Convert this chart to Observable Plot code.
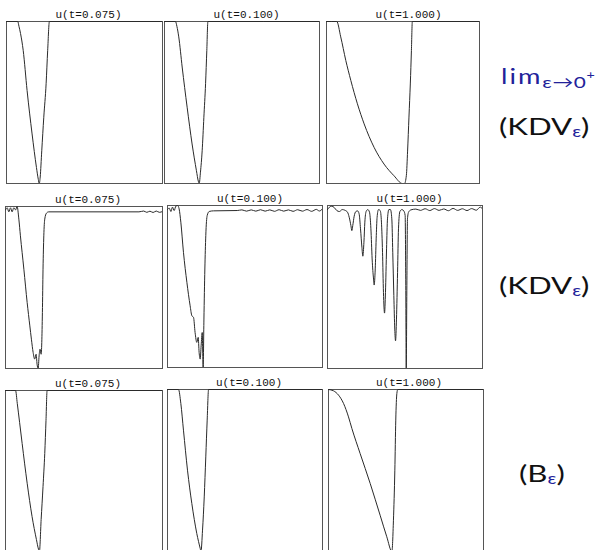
<!DOCTYPE html>
<html><head><meta charset="utf-8">
<script src="https://cdn.jsdelivr.net/npm/d3@7"></script>
<script src="https://cdn.jsdelivr.net/npm/@observablehq/plot@0.6"></script>
<style>
body{margin:0;background:#fff;}
#root{position:relative;width:606px;height:550px;overflow:hidden;background:#fff;}
.lbl{position:absolute;white-space:nowrap;font-family:"Lato","DejaVu Sans";font-weight:400;line-height:1;transform-origin:0 0;transform:scaleX(1.3);color:#111;}
.blue{color:#22229a;}
</style></head><body><div id="root"></div>
<script>
// panel titles
const titles = ["u(t=0.075)", "u(t=0.100)", "u(t=1.000)"];

// Row 1: lim eps->0+ (KDV_eps)
const limX075 = [0, 0.072, 0.080, 0.090, 0.107, 0.132, 0.164, 0.192, 0.204, 0.210, 0.216, 0.226, 0.239, 0.254, 0.264, 0.275, 1];
const limU075 = [0, 0, -0.030, -0.074, -0.178, -0.426, -0.694, -0.901, -0.975, -1, -0.960, -0.798, -0.591, -0.384, -0.178, 0, 0];
const limX100 = [0, 0.071, 0.080, 0.092, 0.114, 0.146, 0.178, 0.206, 0.218, 0.224, 0.232, 0.243, 0.254, 0.265, 0.273, 0.280, 1];
const limU100 = [0, 0, -0.030, -0.095, -0.281, -0.529, -0.756, -0.921, -0.985, -1, -0.930, -0.798, -0.591, -0.384, -0.178, 0, 0];
const limX1000 = [0, 0.067, 0.093, 0.126, 0.159, 0.202, 0.246, 0.311, 0.376, 0.441, 0.496, 0.510, 0.522, 0.530, 0.539, 0.548, 0.555, 0.561, 1];
const limU1000 = [0, 0, -0.095, -0.240, -0.364, -0.508, -0.632, -0.777, -0.880, -0.952, -1, -1, -0.950, -0.800, -0.590, -0.380, -0.180, 0, 0];

// Row 2: (KDV_eps)
const kdvX075 = [0, 0.011, 0.021, 0.032, 0.042, 0.053, 0.064, 0.074, 0.085, 0.095, 0.117, 0.138, 0.155, 0.165, 0.176, 0.186, 0.195, 0.201, 0.208, 0.214, 0.220, 0.227, 0.231, 0.235, 0.239, 0.244, 0.250, 0.261, 0.275, 0.500, 0.850, 0.880, 0.900, 0.920, 0.940, 0.960, 0.980, 1];
const kdvU075 = [-0.021, -0.008, -0.033, -0.008, -0.033, -0.008, -0.021, 0, -0.078, -0.181, -0.387, -0.593, -0.737, -0.819, -0.901, -0.942, -0.912, -0.973, -1, -0.922, -0.881, -0.912, -0.840, -0.654, -0.387, -0.181, -0.078, -0.041, -0.033, -0.033, -0.033, -0.028, -0.036, -0.029, -0.037, -0.028, -0.036, -0.031];
const kdvX100 = [0, 0.011, 0.022, 0.032, 0.043, 0.054, 0.065, 0.075, 0.086, 0.103, 0.125, 0.146, 0.157, 0.168, 0.178, 0.189, 0.198, 0.204, 0.211, 0.217, 0.224, 0.230, 0.235, 0.241, 0.247, 0.256, 0.269, 0.297, 0.450, 0.480, 0.510, 0.540, 0.570, 0.600, 0.630, 0.660, 0.690, 0.720, 0.750, 0.780, 0.810, 0.840, 0.870, 0.900, 0.930, 0.960, 0.980, 1];
const kdvU100 = [-0.025, -0.016, -0.037, -0.010, -0.031, -0.004, 0, -0.021, -0.103, -0.289, -0.474, -0.619, -0.680, -0.691, -0.784, -0.845, -0.814, -0.907, -0.948, -0.866, -0.784, -1, -0.701, -0.392, -0.186, -0.062, -0.037, -0.033, -0.031, -0.027, -0.035, -0.027, -0.035, -0.026, -0.035, -0.027, -0.036, -0.026, -0.035, -0.027, -0.036, -0.026, -0.035, -0.025, -0.036, -0.024, -0.034, -0.020];
const kdvX1000 = [0, 0.013, 0.028, 0.043, 0.060, 0.077, 0.095, 0.112, 0.129, 0.140, 0.151, 0.157, 0.163, 0.172, 0.183, 0.194, 0.204, 0.213, 0.222, 0.228, 0.235, 0.241, 0.249, 0.260, 0.271, 0.280, 0.288, 0.297, 0.301, 0.308, 0.314, 0.320, 0.329, 0.340, 0.348, 0.355, 0.361, 0.368, 0.374, 0.381, 0.387, 0.396, 0.406, 0.415, 0.421, 0.428, 0.434, 0.439, 0.445, 0.452, 0.458, 0.467, 0.480, 0.492, 0.501, 0.505, 0.508, 0.512, 0.516, 0.523, 0.538, 0.570, 0.600, 0.630, 0.660, 0.690, 0.720, 0.750, 0.780, 0.810, 0.840, 0.870, 0.900, 0.930, 0.960, 0.985, 1];
const kdvU1000 = [-0.025, -0.010, -0.004, -0.012, -0.031, -0.037, -0.025, -0.029, -0.041, -0.072, -0.123, -0.154, -0.123, -0.066, -0.037, -0.033, -0.051, -0.143, -0.256, -0.311, -0.225, -0.102, -0.037, -0.025, -0.041, -0.143, -0.328, -0.451, -0.488, -0.389, -0.205, -0.072, -0.025, -0.031, -0.102, -0.287, -0.533, -0.660, -0.533, -0.266, -0.082, -0.025, -0.025, -0.082, -0.287, -0.553, -0.758, -0.830, -0.697, -0.410, -0.143, -0.037, -0.025, -0.033, -0.061, -0.492, -1, -0.492, -0.082, -0.041, -0.027, -0.022, -0.030, -0.020, -0.031, -0.019, -0.030, -0.021, -0.032, -0.018, -0.030, -0.020, -0.031, -0.019, -0.029, -0.010, -0.020];

// Row 3: (B_eps)
const bX075 = [0, 0.064, 0.075, 0.090, 0.106, 0.138, 0.169, 0.197, 0.210, 0.216, 0.227, 0.239, 0.250, 0.258, 0.265, 1];
const bU075 = [0, 0, -0.080, -0.200, -0.329, -0.576, -0.782, -0.926, -0.985, -1, -0.802, -0.597, -0.391, -0.185, 0, 0];
const bX100 = [0, 0.071, 0.086, 0.103, 0.129, 0.157, 0.189, 0.211, 0.216, 0.226, 0.237, 0.247, 0.256, 0.265, 1];
const bU100 = [0, 0, -0.086, -0.251, -0.498, -0.704, -0.889, -0.981, -1, -0.868, -0.663, -0.416, -0.189, 0, 0];
const bX1000 = [0, 0.032, 0.065, 0.097, 0.129, 0.151, 0.204, 0.269, 0.333, 0.376, 0.409, 0.419, 0.428, 0.434, 0.441, 0.447, 1];
const bU1000 = [0, -0.008, -0.035, -0.086, -0.169, -0.241, -0.395, -0.580, -0.776, -0.909, -1, -0.807, -0.498, -0.189, -0.025, 0, 0];

const root = document.getElementById("root");

function panel(xs, us, title, L, T, W, H, dx) {
  const data = xs.map((x, i) => ({x, u: us[i]}));
  const mt = 22;
  const svg = Plot.plot({
    width: W + 2, height: H + mt + 1,
    marginLeft: 1, marginRight: 1, marginTop: mt, marginBottom: 1,
    x: {domain: [0, 1], axis: null},
    y: {domain: [-1, 0], axis: null},
    style: {background: "transparent", overflow: "visible"},
    marks: [
      Plot.frame({stroke: "#555", strokeWidth: 1}),
      Plot.line(data, {x: "x", y: "u", stroke: "#2a2a2a", strokeWidth: 1, curve: "monotone-x", clip: true}),
      Plot.text([title], {text: d => d, frameAnchor: "top", lineAnchor: "bottom", dy: -4, dx, fontFamily: "Liberation Mono", fontSize: 11, fill: "#111"})
    ]
  });
  svg.style.position = "absolute";
  svg.style.left = (L - 1) + "px";
  svg.style.top = (T - mt) + "px";
  root.append(svg);
}

panel(limX075, limU075, titles[0], 6, 21, 156, 162, 4);
panel(limX100, limU100, titles[1], 164, 21, 155, 162, 4.5);
panel(limX1000, limU1000, titles[2], 326, 21, 153, 162, 5.5);
panel(kdvX075, kdvU075, titles[0], 5, 206, 157, 162, 4);
panel(kdvX100, kdvU100, titles[1], 167, 205, 155, 162, 5);
panel(kdvX1000, kdvU1000, titles[2], 327, 205, 155, 163, 4.5);
panel(bX075, bU075, titles[0], 5, 390, 157, 161, 4);
panel(bX100, bU100, titles[1], 167, 389, 155, 162, 4);
panel(bX1000, bU1000, titles[2], 328, 389, 155, 162, 3);

function label(html, left, top, size) {
  const d = document.createElement("div");
  d.className = "lbl";
  d.style.left = left + "px";
  d.style.top = top + "px";
  d.style.fontSize = size + "px";
  d.innerHTML = html;
  root.append(d);
}
label('<span class="blue" style="letter-spacing:1.5px">lim<span style="font-size:16px;position:relative;top:4px;letter-spacing:0.5px">ε→0<span style="font-size:11px;position:relative;top:-9px">+</span></span></span>', 501, 65, 21);
label('(KDV<span class="blue" style="font-size:15px;position:relative;top:2px">ε</span>)', 499, 114, 24);
label('(KDV<span class="blue" style="font-size:15px;position:relative;top:2px">ε</span>)', 499, 272.5, 24);
label('(B<span class="blue" style="font-size:15px;position:relative;top:2px">ε</span>)', 519, 461, 24);
</script>
</body></html>
